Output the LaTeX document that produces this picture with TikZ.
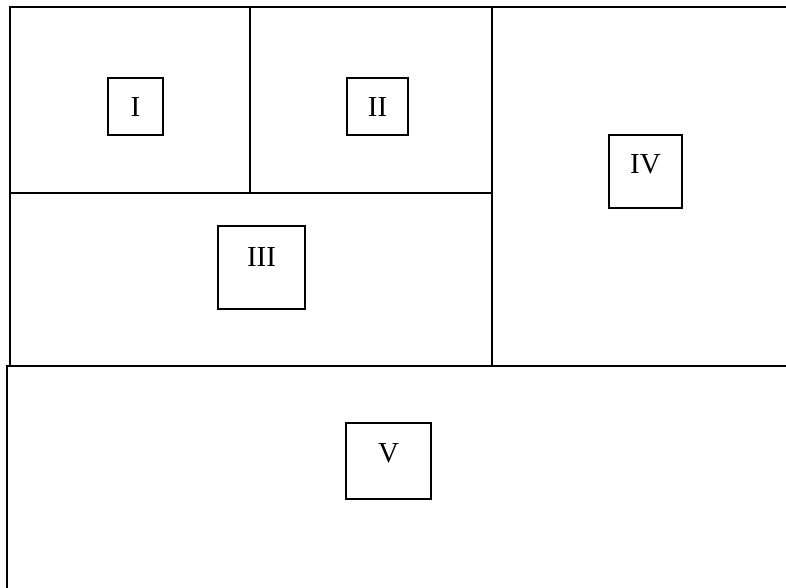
\documentclass[tikz,border=0pt]{standalone}
\usepackage{fontspec}
\setmainfont{Liberation Serif}
\begin{document}
\begin{tikzpicture}[x=1pt,y=-1pt,
  frame/.style={line width=2.2pt,line cap=rect},
  smallbox/.style={draw,line width=1.8pt,inner sep=0pt},
  lbl/.style={font=\fontsize{29}{30}\selectfont,inner sep=0pt,anchor=base}]
\fill[white] (0,0) rectangle (786,588);
\useasboundingbox (0,0) rectangle (786,588);
% frame lines
\draw[frame] (10,366) -- (10,7) -- (786,7);
\draw[frame] (250,7) -- (250,193);
\draw[frame] (10,193) -- (492,193);
\draw[frame] (492,7) -- (492,366);
\draw[frame] (7,588) -- (7,366) -- (786,366);
% boxes
\node[smallbox,minimum width=55pt,minimum height=57pt] (b1) at (135.5,106.5) {};
\node[smallbox,minimum width=61pt,minimum height=57pt] (b2) at (377.5,106.5) {};
\node[smallbox,minimum width=87pt,minimum height=83pt] (b3) at (261.5,267.5) {};
\node[smallbox,minimum width=73pt,minimum height=73pt] (b4) at (645.5,171.5) {};
\node[smallbox,minimum width=85pt,minimum height=76pt] (b5) at (388.5,461) {};
% labels
\node[lbl] (t1) at (135.5,117) {I};
\node[lbl] (t2) at (377.5,117) {II};
\node[lbl] (t3) at (261.5,266) {III};
\node[lbl] (t4) at (645.5,174) {IV};
\node[lbl] (t5) at (388.5,462) {V};
\end{tikzpicture}
\end{document}
